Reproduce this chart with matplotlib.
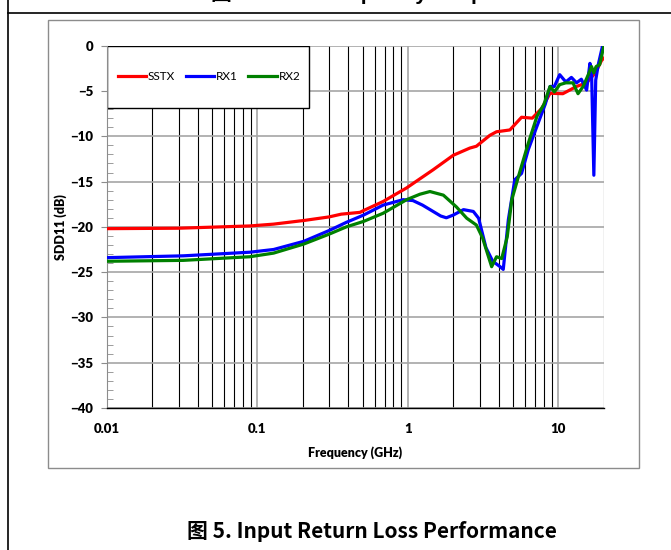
import matplotlib.pyplot as plt
import matplotlib.ticker as mticker
from matplotlib.patches import Rectangle
from matplotlib.lines import Line2D
import numpy as np

# ---------------- data ----------------
sstx_f = [0.01, 0.03, 0.089, 0.128, 0.191, 0.203, 0.30, 0.36, 0.48, 0.507, 0.684, 0.98,
          1.47, 2.0, 2.58, 2.85, 3.5, 3.88, 4.1, 4.76, 5.69, 6.7, 7.77, 8.8, 10.7,
          13.2, 15.4, 17.6, 19.4, 20.0]
sstx_db = [-20.2, -20.15, -19.9, -19.7, -19.35, -19.3, -18.9, -18.6, -18.4, -18.2, -17.2, -15.7,
           -13.7, -12.1, -11.3, -11.1, -9.9, -9.5, -9.45, -9.3, -7.9, -8.0, -6.9, -5.25, -5.3,
           -4.5, -4.1, -3.0, -1.6, -1.4]

rx1_f = [0.01, 0.0321, 0.089, 0.128, 0.203, 0.30, 0.39, 0.507, 0.684, 0.93, 1.08, 1.25, 1.47, 1.65, 1.8,
         2.0, 2.34, 2.72, 2.95, 3.3, 3.66, 4.1, 4.3, 4.65, 5.13, 5.69, 6.3, 7.2, 8.2, 8.8,
         9.4, 10.2, 11.2, 12.2, 13.2, 14.2, 15.4, 16.2, 16.6, 17.2, 17.7, 18.4, 19.6, 20.0]
rx1_db = [-23.4, -23.2, -22.8, -22.5, -21.6, -20.4, -19.5, -18.7, -17.6, -17.0, -17.1, -17.6, -18.3, -18.8, -19.0,
          -18.7, -18.1, -18.3, -19.05, -22.3, -23.8, -24.4, -24.7, -19.2, -14.8, -14.1, -11.5, -8.9, -6.4, -4.5,
          -4.5, -3.2, -4.0, -3.5, -4.1, -3.7, -4.9, -1.95, -2.7, -14.3, -3.8, -2.1, -0.1, 0.0]

rx2_f = [0.01, 0.0321, 0.089, 0.128, 0.203, 0.30, 0.39, 0.507, 0.684, 0.98, 1.2, 1.4, 1.72, 2.1,
         2.46, 2.85, 3.13, 3.37, 3.6, 3.88, 4.2, 4.57, 4.9, 5.5, 6.3, 7.2, 8.0, 8.8, 9.4,
         10.2, 11.2, 12.5, 13.5, 14.6, 15.8, 16.6, 17.2, 17.8, 18.8, 20.0]
rx2_db = [-23.8, -23.7, -23.3, -22.9, -21.9, -20.8, -20.0, -19.4, -18.5, -17.0, -16.4, -16.1, -16.5, -17.8,
          -19.05, -19.8, -21.2, -22.9, -24.4, -23.3, -23.5, -21.1, -17.0, -14.1, -10.8, -7.8, -6.5, -4.5, -5.1,
          -4.3, -4.1, -4.1, -5.3, -4.5, -3.2, -2.3, -3.0, -2.3, -2.1, -0.1]

series_names = ['SSTX', 'RX1', 'RX2']
series_colors = ['#ff0000', '#0000ff', '#008000']
x_tick_vals = [0.01, 0.1, 1, 10]
x_tick_text = ['0.01', '0.1', '1', '10']

# ---------------- figure ----------------
W, H = 671, 550
fig = plt.figure(figsize=(W / 100, H / 100), dpi=100)
fig.patch.set_facecolor('white')

# page frame lines and chart box (pixel coords -> figure fraction)
fig.add_artist(Line2D([8 / W, 8 / W], [0, 1], color='black', lw=1.2))
fig.add_artist(Line2D([8 / W, 1], [1 - 13 / H, 1 - 13 / H], color='black', lw=1.2))
fig.add_artist(Rectangle((48 / W, 1 - 468 / H), (639 - 48) / W, (468 - 20) / H,
                         transform=fig.transFigure, fill=False, ec='#8c8c8c', lw=1.0))

# clipped heading of the previous figure, only its bottom edge shows
fig.text(372 / W, 1.0, '图 4. SSTX Frequency Response', ha='center', va='baseline',
         fontsize=15, fontweight='bold', family=['Liberation Sans', 'Noto Sans CJK SC'])

ax = fig.add_axes([107 / W, 1 - 408 / H, (603.7 - 107) / W, (408 - 45.7) / H])
ax.set_xscale('log')
ax.set_xlim(0.01, 20)
ax.set_ylim(-40, 0)

# grid
ax.set_axisbelow(True)
ax.xaxis.set_minor_locator(mticker.LogLocator(base=10, subs=np.arange(2, 10)))
ax.grid(True, which='minor', axis='x', color='black', lw=0.8)
ax.grid(True, which='major', axis='x', color='#a6a6a6', lw=1.2)
ax.grid(True, which='major', axis='y', color='#a6a6a6', lw=1.2)

for f, d, c, n in zip([sstx_f, rx1_f, rx2_f], [sstx_db, rx1_db, rx2_db], series_colors, series_names):
    ax.plot(f, d, color=c, lw=2.3, label=n, zorder=3)

# legend box
ax.add_patch(Rectangle((0, 1 - (108 - 45.7) / (408 - 45.7)), (309 - 107) / (603.7 - 107),
                       (108 - 45.7) / (408 - 45.7), transform=ax.transAxes,
                       fc='white', ec='black', lw=1.0, zorder=1))
leg = ax.legend(loc='center', bbox_to_anchor=((209 - 107) / (603.7 - 107), 1 - (77 - 45.7) / (408 - 45.7)),
                ncol=3, frameon=False, handlelength=2.4, handletextpad=0.15,
                columnspacing=0.9, prop={'family': 'Lato', 'size': 8.5})

# axes styling
for s in ['top', 'right']:
    ax.spines[s].set_visible(False)
ax.spines['left'].set_color('#8c8c8c')
ax.spines['bottom'].set_color('black')
ax.spines['bottom'].set_linewidth(1.0)

ax.set_yticks(np.arange(-40, 1, 5))
ax.yaxis.set_minor_locator(mticker.MultipleLocator(1))
ax.tick_params(axis='y', which='major', direction='out', length=4, color='#8c8c8c', pad=6)
ax.tick_params(axis='y', which='minor', direction='in', length=4, color='#8c8c8c')
ax.set_xticks(x_tick_vals)
ax.set_xticklabels(x_tick_text)
ax.xaxis.set_minor_formatter(mticker.NullFormatter())
ax.tick_params(axis='x', which='both', length=0, pad=11)

for lab in ax.get_xticklabels() + ax.get_yticklabels():
    lab.set_fontfamily('Lato')
    lab.set_fontweight('heavy')
    lab.set_fontsize(9.5)

ax.set_xlabel('Frequency (GHz)', fontfamily='Lato', fontweight='heavy', fontsize=9, labelpad=8)
ax.set_ylabel('SDD11 (dB)', fontfamily='Lato', fontweight='heavy', fontsize=9, labelpad=2)

fig.text(372 / W, 1 - 532 / H, '图 5. Input Return Loss Performance', ha='center', va='center',
         fontsize=15, fontweight='bold', family=['Liberation Sans Narrow', 'Noto Sans CJK SC'])

fig.savefig('out.png', dpi=100)
